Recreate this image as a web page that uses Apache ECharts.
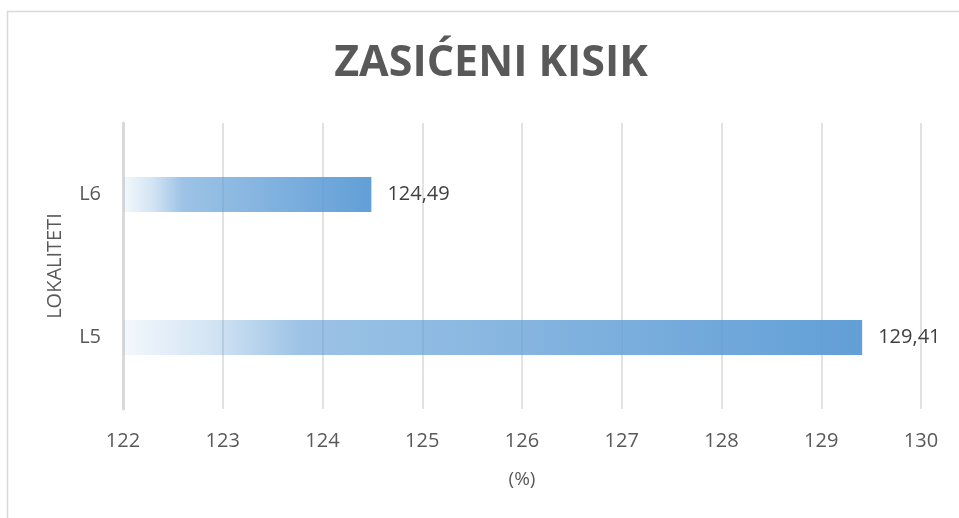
<!DOCTYPE html>
<html>
<head>
<meta charset="utf-8">
<script src="https://cdn.jsdelivr.net/npm/echarts@6/dist/echarts.min.js"></script>
<style>
html,body{margin:0;padding:0;background:#fff;}
#chart{width:959px;height:518px;}
</style>
</head>
<body>
<div id="chart"></div>
<script>
const titleText = 'ZASIĆENI KISIK';
const categories = ['L5', 'L6'];
const values = [129.41, 124.49];
const xAxisName = '(%)';
const yAxisName = 'LOKALITETI';
const xMin = 122, xMax = 130, xStep = 1;

const chart = echarts.init(document.getElementById('chart'));
const barFill = new echarts.graphic.LinearGradient(0, 0, 1, 0, [
  { offset: 0, color: 'rgba(91,155,213,0.07)' },
  { offset: 0.12, color: 'rgba(91,155,213,0.27)' },
  { offset: 0.24, color: 'rgba(91,155,213,0.6)' },
  { offset: 1, color: 'rgba(91,155,213,0.96)' }
]);
const option = {
  animation: false,
  backgroundColor: '#fff',
  title: {
    text: titleText,
    left: 486,
    textAlign: 'center',
    top: 37,
    textStyle: { fontFamily: 'Open Sans', fontWeight: 'bold', fontSize: 43, color: '#595959' }
  },
  graphic: [{
    type: 'rect', silent: true, z: -10,
    shape: { x: 7.5, y: 11.5, width: 1000, height: 600 },
    style: { fill: 'none', stroke: '#d9d9d9', lineWidth: 1.5 }
  }],
  grid: { left: 123, right: 38, top: 123, bottom: 109, containLabel: false },
  xAxis: {
    type: 'value', min: xMin, max: xMax, interval: xStep,
    name: xAxisName, nameLocation: 'middle', nameGap: 61,
    nameTextStyle: { fontFamily: 'Open Sans', fontSize: 19, color: '#595959' },
    axisLine: { show: false }, axisTick: { show: false },
    axisLabel: { margin: 22, fontFamily: 'Open Sans', fontSize: 20, color: '#595959',
      formatter: v => String(v) },
    splitLine: { show: true, lineStyle: { color: '#d9d9d9', width: 1.5 } }
  },
  yAxis: {
    type: 'category', data: categories,
    name: yAxisName, nameLocation: 'middle', nameGap: 58, nameRotate: 90,
    nameTextStyle: { fontFamily: 'Open Sans', fontSize: 20, color: '#595959' },
    axisLine: { show: true, lineStyle: { color: '#d9d9d9', width: 3 } },
    axisTick: { show: false },
    axisLabel: { margin: 22, fontFamily: 'Open Sans', fontSize: 20, color: '#595959' }
  },
  series: [{
    type: 'bar', data: values, barWidth: 35,
    itemStyle: { color: barFill },
    label: {
      show: true, position: 'right', distance: 16,
      fontFamily: 'Open Sans', fontSize: 20, color: '#404040',
      formatter: p => p.value.toFixed(2).replace('.', ',')
    }
  }]
};
chart.setOption(option);
</script>
</body>
</html>
